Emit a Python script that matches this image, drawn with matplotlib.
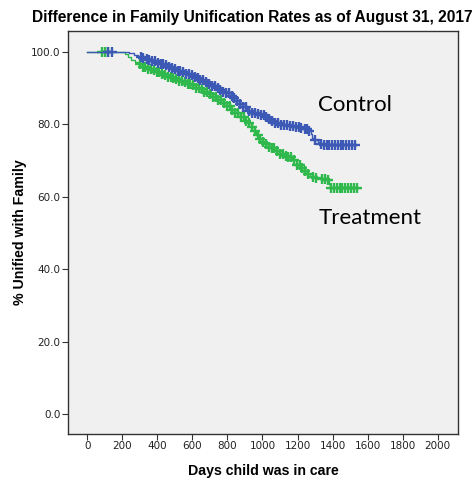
import matplotlib
matplotlib.use('Agg')
import matplotlib.pyplot as plt
import numpy as np

# Kaplan-Meier step knots (days, % unified)
ctrl_t = [0, 190, 215, 240, 265, 290, 310, 330, 350, 370, 390, 410, 435, 455,
          475, 495, 515, 540, 560, 586, 605, 625, 645, 665, 690, 710, 730, 750,
          770, 790, 810, 830, 850, 870, 890, 910, 930, 950, 970, 990, 1010,
          1030, 1050, 1071, 1095, 1120, 1150, 1185, 1215, 1240, 1260, 1275,
          1285, 1295, 1315, 1330, 1347, 1535]
ctrl_s = [100, 100, 99.8, 99.5, 99.1, 98.6, 98.2, 98.0, 97.7, 97.4, 97.0, 96.7,
          96.3, 95.9, 95.5, 95.1, 94.7, 94.3, 93.9, 93.5, 93.0, 92.6, 92.1,
          91.6, 91.0, 90.5, 89.9, 89.4, 89.0, 88.6, 87.9, 87.1, 86.3, 85.5,
          84.6, 83.7, 83.2, 83.0, 82.7, 82.5, 82.0, 81.4, 80.8, 80.3, 79.9,
          79.7, 79.5, 79.3, 79.0, 78.6, 78.2, 77.4, 76.3, 75.6, 75.0, 74.6,
          74.2, 74.2]

treat_t = [0, 200, 215, 230, 250, 270, 290, 310, 340, 365, 390, 415, 435, 460,
           480, 500, 520, 545, 567, 590, 615, 640, 665, 690, 715, 739, 765, 790,
           815, 843, 870, 900, 920, 938, 950, 963, 976, 995, 1015, 1035, 1052,
           1075, 1100, 1125, 1147, 1170, 1195, 1214, 1235, 1255, 1271, 1300,
           1335, 1366, 1378, 1385, 1555]
treat_s = [100, 100, 99.3, 98.6, 97.8, 97.1, 96.5, 95.9, 95.3, 94.8, 94.3, 93.8,
           93.5, 93.1, 92.7, 92.4, 92.0, 91.6, 91.2, 90.7, 90.1, 89.6, 88.9,
           88.2, 87.4, 86.6, 85.8, 85.0, 84.0, 83.0, 82.0, 81.0, 80.2, 79.3,
           78.2, 77.0, 76.0, 75.2, 74.4, 73.8, 73.3, 72.5, 71.8, 71.3, 71.0,
           70.0, 68.8, 67.8, 67.0, 66.2, 65.5, 65.1, 64.8, 64.6, 63.5, 62.3,
           62.3]

# censored cases (days)
ctrl_cens = [120, 140, 305, 320, 338, 352, 370, 386, 402, 418, 433, 450, 466,
             482, 500, 515, 532, 548, 565, 580, 597, 612, 630, 646, 662, 680,
             695, 712, 728, 744, 760, 777, 792, 808, 825, 840, 857, 873, 890,
             905, 922, 940, 956, 972, 990, 1006, 1022, 1040, 1056, 1072, 1090,
             1106, 1122, 1140, 1156, 1172, 1190, 1206, 1222, 1240, 1256, 1268,
             1300, 1332, 1350, 1366, 1382, 1398, 1414, 1430, 1446, 1462, 1478,
             1494, 1510, 1526]
treat_cens = [82, 100, 119, 300, 316, 332, 348, 364, 380, 396, 412, 428, 444,
              460, 476, 492, 508, 524, 540, 556, 572, 588, 604, 620, 636, 652,
              668, 684, 700, 716, 732, 748, 764, 780, 796, 812, 828, 844, 860,
              876, 892, 908, 924, 940, 956, 972, 988, 1004, 1020, 1036, 1052,
              1068, 1084, 1100, 1116, 1132, 1148, 1164, 1180, 1196, 1212, 1228,
              1244, 1260, 1290, 1306, 1340, 1356, 1372, 1392, 1408, 1424, 1440,
              1456, 1472, 1488, 1504, 1520, 1540]

xticks = [0, 200, 400, 600, 800, 1000, 1200, 1400, 1600, 1800, 2000]
yticks = [0, 20, 40, 60, 80, 100]

BLUE = '#3d59b6'
GREEN = '#2fb84c'


def cens_y(t, s, c):
    idx = np.searchsorted(t, c, side='right') - 1
    return np.asarray(s)[idx]


fig = plt.figure(figsize=(4.75, 4.79), dpi=100)
ax = fig.add_axes([0.1432, 0.0939, 0.821, 0.8414])
ax.set_facecolor('#f0f0f0')

for t, s, c, col in [(treat_t, treat_s, treat_cens, GREEN),
                     (ctrl_t, ctrl_s, ctrl_cens, BLUE)]:
    ax.step(t, s, where='post', color=col, lw=1.0)
    ax.plot(c, cens_y(t, s, c), ls='none', marker='+', ms=7, mew=1.7,
            color=col)

ax.text(1317, 85.2, 'Control', fontsize=16, family='Lato', va='center')
ax.text(1321, 54.1, 'Treatment', fontsize=16, family='Lato', va='center')

ax.set_xlim(-110, 2116)
ax.set_ylim(-5.5, 105.7)
ax.set_xticks(xticks)
ax.set_xticklabels([str(v) for v in xticks])
ax.set_yticks(yticks)
ax.set_yticklabels(['%.1f' % v for v in yticks])
ax.tick_params(labelsize=7.5, length=4.5, width=0.8, color='#333333',
               labelcolor='#222222', pad=0.8)
for sp in ax.spines.values():
    sp.set_color('#333333')
    sp.set_linewidth(1.0)

ax.set_xlabel('Days child was in care', fontsize=10.2, fontweight='bold',
              family='Liberation Sans', labelpad=9)
ax.set_ylabel('% Unified with Family', fontsize=10.2, fontweight='bold',
              family='Liberation Sans', labelpad=3)
fig.text(0.531, 0.964, 'Difference in Family Unification Rates as of August 31, 2017',
         ha='center', va='center', fontsize=11.2, fontweight='bold',
         family='Liberation Sans')

fig.savefig('out.png', dpi=100)
